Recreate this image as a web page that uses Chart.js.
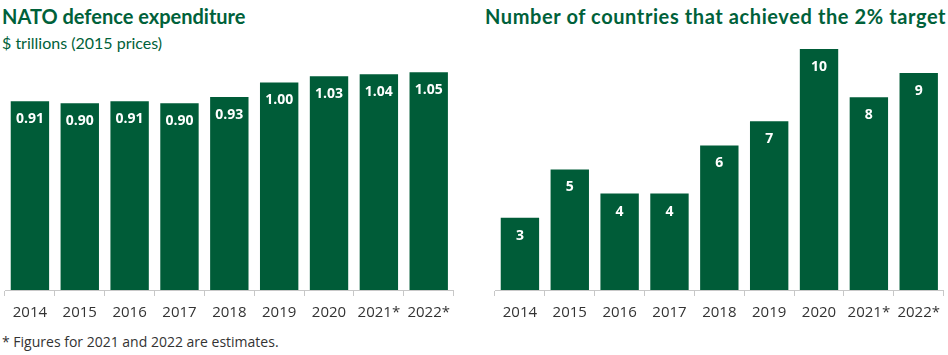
<!DOCTYPE html>
<html>
<head>
<meta charset="utf-8">
<script src="https://cdn.jsdelivr.net/npm/chart.js@4.4.0/dist/chart.umd.min.js"></script>
<style>
  html, body { margin: 0; padding: 0; background: #fff; }
  body { width: 948px; height: 355px; position: relative; overflow: hidden; }
  .t { position: absolute; white-space: nowrap; color: #00613a; }
  .title { font-family: Lato, sans-serif; font-weight: 700; font-size: 20px; }
  .sub { font-family: Lato, sans-serif; font-size: 16px; }
  .foot { font-family: "Open Sans", sans-serif; font-size: 14px; color: #333; }
  canvas { position: absolute; }
</style>
</head>
<body>
<div class="t title" style="left:2px; top:4px;">NATO defence expenditure</div>
<div class="t sub" style="left:2px; top:33px;">$ trillions (2015 prices)</div>
<div class="t title" style="left:485px; top:4px; letter-spacing:0.6px;">Number of countries that achieved the 2% target</div>
<div class="t foot" style="left:2px; top:332px;">* Figures for 2021 and 2022 are estimates.</div>
<div style="position:absolute; left:0; top:0; width:458px; height:355px;"><canvas id="c1"></canvas></div>
<div style="position:absolute; left:490px; top:0; width:458px; height:355px;"><canvas id="c2"></canvas></div>
<script>
const years = ["2014", "2015", "2016", "2017", "2018", "2019", "2020", "2021*", "2022*"];
const expenditure = [0.91, 0.90, 0.91, 0.90, 0.93, 1.00, 1.03, 1.04, 1.05];
const countries = [3, 5, 4, 4, 6, 7, 10, 8, 9];
const expLabels = ["0.91", "0.90", "0.91", "0.90", "0.93", "1.00", "1.03", "1.04", "1.05"];

const GREEN = "#005c38";

const labelPlugin = {
  id: "barLabels",
  afterDatasetsDraw(chart, args, opts) {
    const ctx = chart.ctx;
    const meta = chart.getDatasetMeta(0);
    ctx.save();
    ctx.fillStyle = "#ffffff";
    ctx.font = "700 14px 'Open Sans', sans-serif";
    ctx.textAlign = "center";
    ctx.textBaseline = "middle";
    meta.data.forEach((bar, i) => {
      ctx.fillText(opts.labels[i], bar.x, bar.y + 18);
    });
    ctx.restore();
  }
};

function makeChart(id, values, labels, yMax, padTop) {
  return new Chart(document.getElementById(id), {
    type: "bar",
    data: {
      labels: years,
      datasets: [{
        data: values,
        backgroundColor: GREEN,
        borderWidth: 0,
        barPercentage: 0.77,
        categoryPercentage: 1.0
      }]
    },
    options: {
      responsive: true,
      maintainAspectRatio: false,
      animation: false,
      layout: { padding: { left: 5, right: 0, top: padTop, bottom: 0 } },
      plugins: {
        legend: { display: false },
        tooltip: { enabled: false },
        barLabels: { labels: labels }
      },
      scales: {
        x: {
          offset: true,
          grid: {
            offset: true,
            drawOnChartArea: false,
            drawTicks: true,
            tickLength: 6,
            color: "#c8c8c8"
          },
          border: { display: true, color: "#c8c8c8", width: 1 },
          ticks: {
            color: "#333333",
            font: { family: "'Open Sans', sans-serif", size: 15 },
            padding: 8,
            maxRotation: 0,
            autoSkip: false
          },
          afterFit(scale) { scale.height = 65; }
        },
        y: {
          display: false,
          min: 0,
          max: yMax
        }
      }
    },
    plugins: [labelPlugin]
  });
}

makeChart("c1", expenditure, expLabels, 1.2, 290 - 207.5 * 1.2);
makeChart("c2", countries, countries.map(String), 11, 290 - 24.1 * 11);
</script>
</body>
</html>
